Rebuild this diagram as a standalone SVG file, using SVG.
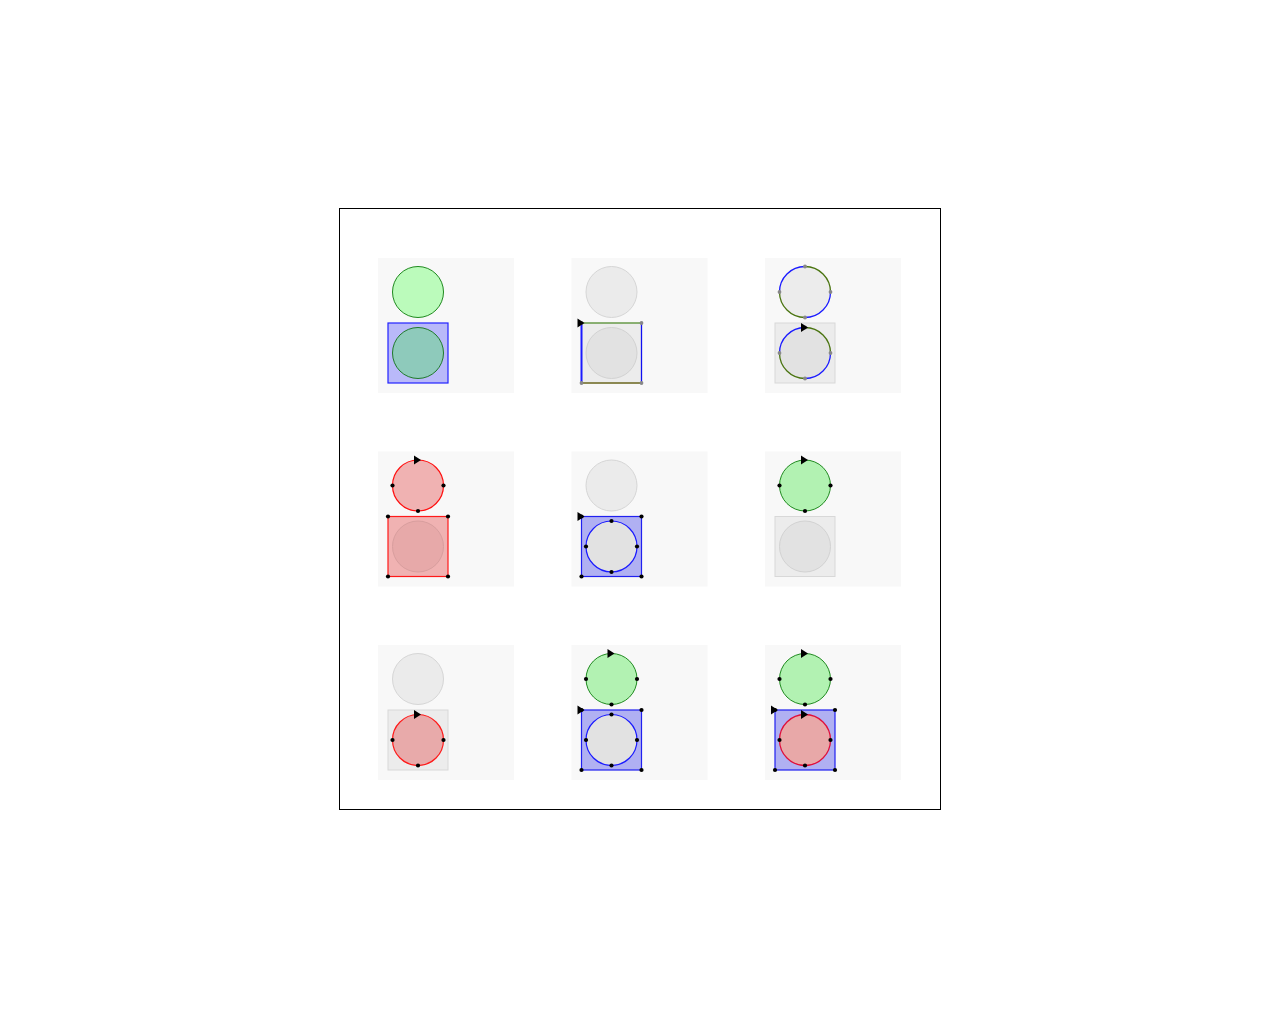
<svg xmlns="http://www.w3.org/2000/svg" width="1280" height="1024" viewBox="0 0 1280 1024">
<style>
.bg{fill:#f8f8f8}
.gc{fill:#ebebeb;stroke:#d6d6d6;stroke-width:1}
.gr{fill:#ececec;stroke:#d8d8d8;stroke-width:1}
.gi{fill:#e2e2e2;stroke:#d2d2d2;stroke-width:1}
.grn{fill:#b2f2b2;stroke:#1f8a1f;stroke-width:1}
.blu{fill:#b0b0f2;stroke:#2020f0;stroke-width:1.2}
.dot{fill:#000}
.gdot{fill:#888}
.arr{fill:#000}
</style>
<defs>
<polygon id="ar" points="-4,-4.5 3,0 -4,4.5"/>
<circle id="d" r="2.1"/>
<circle id="gd" r="1.9"/>
</defs>
<rect width="1280" height="1024" fill="#fff"/>
<rect x="339.5" y="208.5" width="601" height="601" fill="#fff" stroke="#000" stroke-width="1"/>

<g id="panel1" transform="translate(378,258)">
<rect class="bg" width="136" height="135"/>
<circle cx="40" cy="34" r="25.5" fill="#bbfbbb" stroke="#1f8a1f"/>
<rect x="10" y="65" width="60" height="60" fill="#b9b9f9" stroke="#2222ff" stroke-width="1.2"/>
<circle cx="40" cy="95" r="25.5" fill="#8ecabb" stroke="#1f7a2a"/>
</g>

<g id="panel2" transform="translate(571.5,258)">
<rect class="bg" width="136" height="135"/>
<circle class="gc" cx="40" cy="34" r="25.5"/>
<rect class="gr" x="10" y="65" width="60" height="60" stroke="none"/>
<circle class="gi" cx="40" cy="95" r="25.5"/>
<line x1="10" y1="65" x2="70" y2="65" stroke="#2e7a00" stroke-width="1.2"/>
<line x1="70" y1="65" x2="70" y2="125" stroke="#1010f0" stroke-width="1.3"/>
<line x1="10" y1="125" x2="70" y2="125" stroke="#6e6a22" stroke-width="1.5"/>
<line x1="10" y1="65" x2="10" y2="125" stroke="#1a1aff" stroke-width="2"/>
<use href="#gd" x="10" y="65" class="gdot"/>
<use href="#gd" x="70" y="65" class="gdot"/>
<use href="#gd" x="70" y="125" class="gdot"/>
<use href="#gd" x="10" y="125" class="gdot"/>
<use href="#ar" x="10" y="65" class="arr"/>
</g>

<g id="panel3" transform="translate(765,258)">
<rect class="bg" width="136" height="135"/>
<circle cx="40" cy="34" r="25.5" fill="#ececec"/>
<path d="M40,8.5 A25.5,25.5 0 0 0 14.5,34" fill="none" stroke="#1a1aff" stroke-width="1.3"/>
<path d="M14.5,34 A25.5,25.5 0 0 0 40,59.5" fill="none" stroke="#4a7410" stroke-width="1.3"/>
<path d="M40,59.5 A25.5,25.5 0 0 0 65.5,34" fill="none" stroke="#1a1aff" stroke-width="1.3"/>
<path d="M65.5,34 A25.5,25.5 0 0 0 40,8.5" fill="none" stroke="#4a7410" stroke-width="1.3"/>
<use href="#gd" x="40" y="8.5" class="gdot"/>
<use href="#gd" x="14.5" y="34" class="gdot"/>
<use href="#gd" x="40" y="59.5" class="gdot"/>
<use href="#gd" x="65.5" y="34" class="gdot"/>
<rect class="gr" x="10" y="65" width="60" height="60"/>
<circle cx="40" cy="95" r="25.5" fill="#e2e2e2"/>
<path d="M40,69.5 A25.5,25.5 0 0 0 14.5,95" fill="none" stroke="#1a1aff" stroke-width="1.3"/>
<path d="M14.5,95 A25.5,25.5 0 0 0 40,120.5" fill="none" stroke="#4a7410" stroke-width="1.3"/>
<path d="M40,120.5 A25.5,25.5 0 0 0 65.5,95" fill="none" stroke="#1a1aff" stroke-width="1.3"/>
<path d="M65.5,95 A25.5,25.5 0 0 0 40,69.5" fill="none" stroke="#4a7410" stroke-width="1.3"/>
<use href="#gd" x="40" y="69.5" class="gdot"/>
<use href="#gd" x="14.5" y="95" class="gdot"/>
<use href="#gd" x="40" y="120.5" class="gdot"/>
<use href="#gd" x="65.5" y="95" class="gdot"/>
<use href="#ar" x="40" y="69.5" class="arr"/>
</g>

<g id="panel4" transform="translate(378,451.5)">
<rect class="bg" width="136" height="135"/>
<circle cx="40" cy="34" r="25.5" fill="#f0b2b2" stroke="#ff1010" stroke-width="1.2"/>
<use href="#d" x="14.5" y="34" class="dot"/>
<use href="#d" x="65.5" y="34" class="dot"/>
<use href="#d" x="40" y="59.5" class="dot"/>
<use href="#ar" x="40" y="8.5" class="arr"/>
<rect x="10" y="65" width="60" height="60" fill="#f0b2b2" stroke="#ff1a1a" stroke-width="1.2"/>
<circle cx="40" cy="95" r="25.5" fill="#e7a9a9" stroke="#d89e9e"/>
<use href="#d" x="10" y="65" class="dot"/>
<use href="#d" x="70" y="65" class="dot"/>
<use href="#d" x="70" y="125" class="dot"/>
<use href="#d" x="10" y="125" class="dot"/>
</g>

<g id="panel5" transform="translate(571.5,451.5)">
<rect class="bg" width="136" height="135"/>
<circle class="gc" cx="40" cy="34" r="25.5"/>
<rect class="blu" x="10" y="65" width="60" height="60"/>
<circle cx="40" cy="95" r="25.5" fill="#e2e2e2" stroke="#1a1aff" stroke-width="1.2"/>
<use href="#d" x="10" y="65" class="dot"/>
<use href="#d" x="70" y="65" class="dot"/>
<use href="#d" x="70" y="125" class="dot"/>
<use href="#d" x="10" y="125" class="dot"/>
<use href="#d" x="40" y="69.5" class="dot"/>
<use href="#d" x="14.5" y="95" class="dot"/>
<use href="#d" x="65.5" y="95" class="dot"/>
<use href="#d" x="40" y="120.5" class="dot"/>
<use href="#ar" x="10" y="65" class="arr"/>
</g>

<g id="panel6" transform="translate(765,451.5)">
<rect class="bg" width="136" height="135"/>
<circle class="grn" cx="40" cy="34" r="25.5"/>
<use href="#d" x="14.5" y="34" class="dot"/>
<use href="#d" x="65.5" y="34" class="dot"/>
<use href="#d" x="40" y="59.5" class="dot"/>
<use href="#ar" x="40" y="8.5" class="arr"/>
<rect class="gr" x="10" y="65" width="60" height="60"/>
<circle class="gi" cx="40" cy="95" r="25.5"/>
</g>

<g id="panel7" transform="translate(378,645)">
<rect class="bg" width="136" height="135"/>
<circle class="gc" cx="40" cy="34" r="25.5"/>
<rect class="gr" x="10" y="65" width="60" height="60"/>
<circle cx="40" cy="95" r="25.5" fill="#e8aaaa" stroke="#ff1a1a" stroke-width="1.2"/>
<use href="#d" x="14.5" y="95" class="dot"/>
<use href="#d" x="65.5" y="95" class="dot"/>
<use href="#d" x="40" y="120.5" class="dot"/>
<use href="#ar" x="40" y="69.5" class="arr"/>
</g>

<g id="panel8" transform="translate(571.5,645)">
<rect class="bg" width="136" height="135"/>
<circle class="grn" cx="40" cy="34" r="25.5"/>
<use href="#d" x="14.5" y="34" class="dot"/>
<use href="#d" x="65.5" y="34" class="dot"/>
<use href="#d" x="40" y="59.5" class="dot"/>
<use href="#ar" x="40" y="8.5" class="arr"/>
<rect class="blu" x="10" y="65" width="60" height="60"/>
<circle cx="40" cy="95" r="25.5" fill="#e2e2e2" stroke="#1a1aff" stroke-width="1.2"/>
<use href="#d" x="10" y="65" class="dot"/>
<use href="#d" x="70" y="65" class="dot"/>
<use href="#d" x="70" y="125" class="dot"/>
<use href="#d" x="10" y="125" class="dot"/>
<use href="#d" x="40" y="69.5" class="dot"/>
<use href="#d" x="14.5" y="95" class="dot"/>
<use href="#d" x="65.5" y="95" class="dot"/>
<use href="#d" x="40" y="120.5" class="dot"/>
<use href="#ar" x="10" y="65" class="arr"/>
</g>

<g id="panel9" transform="translate(765,645)">
<rect class="bg" width="136" height="135"/>
<circle class="grn" cx="40" cy="34" r="25.5"/>
<use href="#d" x="14.5" y="34" class="dot"/>
<use href="#d" x="65.5" y="34" class="dot"/>
<use href="#d" x="40" y="59.5" class="dot"/>
<use href="#ar" x="40" y="8.5" class="arr"/>
<rect class="blu" x="10" y="65" width="60" height="60"/>
<circle cx="40" cy="95" r="25.5" fill="#e8a8a8" stroke="#e0103c" stroke-width="1.3"/>
<use href="#d" x="10" y="65" class="dot"/>
<use href="#d" x="70" y="65" class="dot"/>
<use href="#d" x="70" y="125" class="dot"/>
<use href="#d" x="10" y="125" class="dot"/>
<use href="#d" x="14.5" y="95" class="dot"/>
<use href="#d" x="65.5" y="95" class="dot"/>
<use href="#d" x="40" y="120.5" class="dot"/>
<use href="#ar" x="10" y="65" class="arr"/>
<use href="#ar" x="40" y="69.5" class="arr"/>
</g>

<g id="connectors"></g>
</svg>
